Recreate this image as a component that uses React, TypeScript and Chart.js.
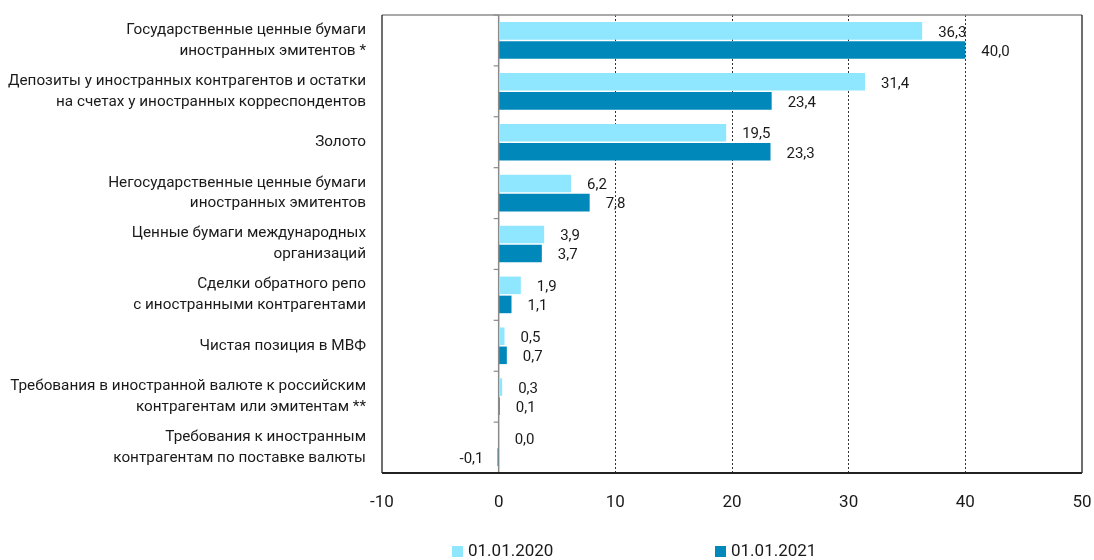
import React, { useEffect, useRef } from "react";
import { Chart, registerables } from "chart.js";

Chart.register(...registerables);

const categories: string[][] = [
  ["Государственные ценные бумаги", "иностранных эмитентов *"],
  ["Депозиты у иностранных контрагентов и остатки", "на счетах у иностранных корреспондентов"],
  ["Золото"],
  ["Негосударственные ценные бумаги", "иностранных эмитентов"],
  ["Ценные бумаги международных", "организаций"],
  ["Сделки обратного репо", "с иностранными контрагентами"],
  ["Чистая позиция в МВФ"],
  ["Требования в иностранной валюте к российским", "контрагентам или эмитентам **"],
  ["Требования к иностранным", "контрагентам по поставке валюты"],
];

const series2020: number[] = [36.3, 31.4, 19.5, 6.2, 3.9, 1.9, 0.5, 0.3, 0.0];
const series2021: number[] = [40.0, 23.4, 23.3, 7.8, 3.7, 1.1, 0.7, 0.1, -0.1];
const seriesNames: string[] = ["01.01.2020", "01.01.2021"];
const xTicks: number[] = [-10, 0, 10, 20, 30, 40, 50];

const LIGHT = "#8FE7FF";
const DARK = "#0088BB";
const FONT = "Roboto";

const fmt = (v: number) => v.toFixed(1).replace(".", ",");

const zeroPad = (scale: any) => {
  scale.paddingTop = 0;
  scale.paddingBottom = 0;
  scale.paddingLeft = 0;
  scale.paddingRight = 0;
};

const framePlugin = {
  id: "frame",
  beforeDatasetsDraw(chart: any) {
    const { ctx, chartArea } = chart;
    const xs = chart.scales.x;
    const ys = chart.scales.y;
    const x0 = xs.getPixelForValue(0);
    ctx.save();
    ctx.strokeStyle = "#8a8a8a";
    ctx.lineWidth = 1.5;
    ctx.beginPath();
    ctx.moveTo(x0, chartArea.top);
    ctx.lineTo(x0, chartArea.bottom);
    ctx.stroke();
    const n = ys.ticks.length;
    const step = (chartArea.bottom - chartArea.top) / n;
    ctx.lineWidth = 1.2;
    for (let i = 0; i <= n; i++) {
      const y = chartArea.top + i * step;
      ctx.beginPath();
      ctx.moveTo(x0 - 5, y);
      ctx.lineTo(x0, y);
      ctx.stroke();
    }
    ctx.restore();
  },
  afterDraw(chart: any) {
    const { ctx, chartArea } = chart;
    ctx.save();
    ctx.lineWidth = 1.3;
    ctx.strokeStyle = "#8c8c8c";
    ctx.beginPath();
    ctx.moveTo(chartArea.left, chartArea.top);
    ctx.lineTo(chartArea.right, chartArea.top);
    ctx.stroke();
    ctx.strokeStyle = "#222";
    ctx.beginPath();
    ctx.moveTo(chartArea.left, chartArea.top);
    ctx.lineTo(chartArea.left, chartArea.bottom);
    ctx.moveTo(chartArea.right, chartArea.top);
    ctx.lineTo(chartArea.right, chartArea.bottom);
    ctx.stroke();
    ctx.lineWidth = 2;
    ctx.beginPath();
    ctx.moveTo(chartArea.left, chartArea.bottom);
    ctx.lineTo(chartArea.right, chartArea.bottom);
    ctx.stroke();

    ctx.font = `15px ${FONT}`;
    ctx.fillStyle = "#1a1a1a";
    ctx.textBaseline = "middle";
    chart.data.datasets.forEach((ds: any, di: number) => {
      const meta = chart.getDatasetMeta(di);
      meta.data.forEach((el: any, i: number) => {
        const v = ds.data[i];
        if (v < 0) {
          ctx.textAlign = "right";
          ctx.fillText(fmt(v), el.x - 14, el.y + 2);
        } else {
          ctx.textAlign = "left";
          ctx.fillText(fmt(v), el.x + 16, el.y + 2);
        }
      });
    });

    ctx.font = `17px ${FONT}`;
    ctx.textAlign = "left";
    ctx.textBaseline = "middle";
    const legendY = chart.height - 8;
    const startX = chartArea.left + 70;
    const gap = 263;
    chart.data.datasets.forEach((ds: any, di: number) => {
      const x = startX + di * gap;
      ctx.fillStyle = ds.backgroundColor;
      ctx.fillRect(x, legendY - 6, 11, 11);
      ctx.fillStyle = "#1a1a1a";
      ctx.fillText(ds.label, x + 16, legendY);
    });
    ctx.restore();
  },
};

export default function App() {
  const ref = useRef<HTMLCanvasElement | null>(null);
  useEffect(() => {
    if (!ref.current) return;
    const chart = new Chart(ref.current, {
      type: "bar",
      data: {
        labels: categories,
        datasets: [
          {
            label: seriesNames[0],
            data: series2020,
            backgroundColor: LIGHT,
            categoryPercentage: 0.75,
            barPercentage: 0.92,
          },
          {
            label: seriesNames[1],
            data: series2021,
            backgroundColor: DARK,
            categoryPercentage: 0.75,
            barPercentage: 0.92,
          },
        ],
      },
      options: {
        indexAxis: "y",
        responsive: false,
        animation: false,
        layout: { padding: { left: 0, right: 12, top: 15, bottom: 0 } },
        plugins: { legend: { display: false }, tooltip: { enabled: false } },
        scales: {
          x: {
            type: "linear",
            min: xTicks[0],
            max: xTicks[xTicks.length - 1],
            afterBuildTicks: (scale: any) => {
              scale.ticks = xTicks.map((v) => ({ value: v }));
            },
            afterFit: (scale: any) => {
              scale.height = 87;
              zeroPad(scale);
            },
            grid: {
              drawTicks: false,
              lineWidth: 1,
              color: (c: any) =>
                c.tick && c.tick.value > 0 && c.tick.value < 50 ? "#333" : "rgba(0,0,0,0)",
            },
            border: { display: false, dash: [2, 2] },
            ticks: {
              padding: 20,
              color: "#1a1a1a",
              font: { family: FONT, size: 17 },
            },
          },
          y: {
            type: "category",
            afterFit: (scale: any) => {
              scale.width = 382;
              zeroPad(scale);
            },
            grid: { display: false, drawTicks: false },
            border: { display: false },
            ticks: {
              padding: 16,
              color: "#1a1a1a",
              font: { family: FONT, size: 15.3, lineHeight: 1.36 },
            },
          },
        },
      },
      plugins: [framePlugin],
    });
    return () => chart.destroy();
  }, []);
  return (
    <div style={{ position: "absolute", left: 0, top: 0, width: 1094, height: 560, background: "#fff" }}>
      <canvas ref={ref} width={1094} height={560} />
    </div>
  );
}
